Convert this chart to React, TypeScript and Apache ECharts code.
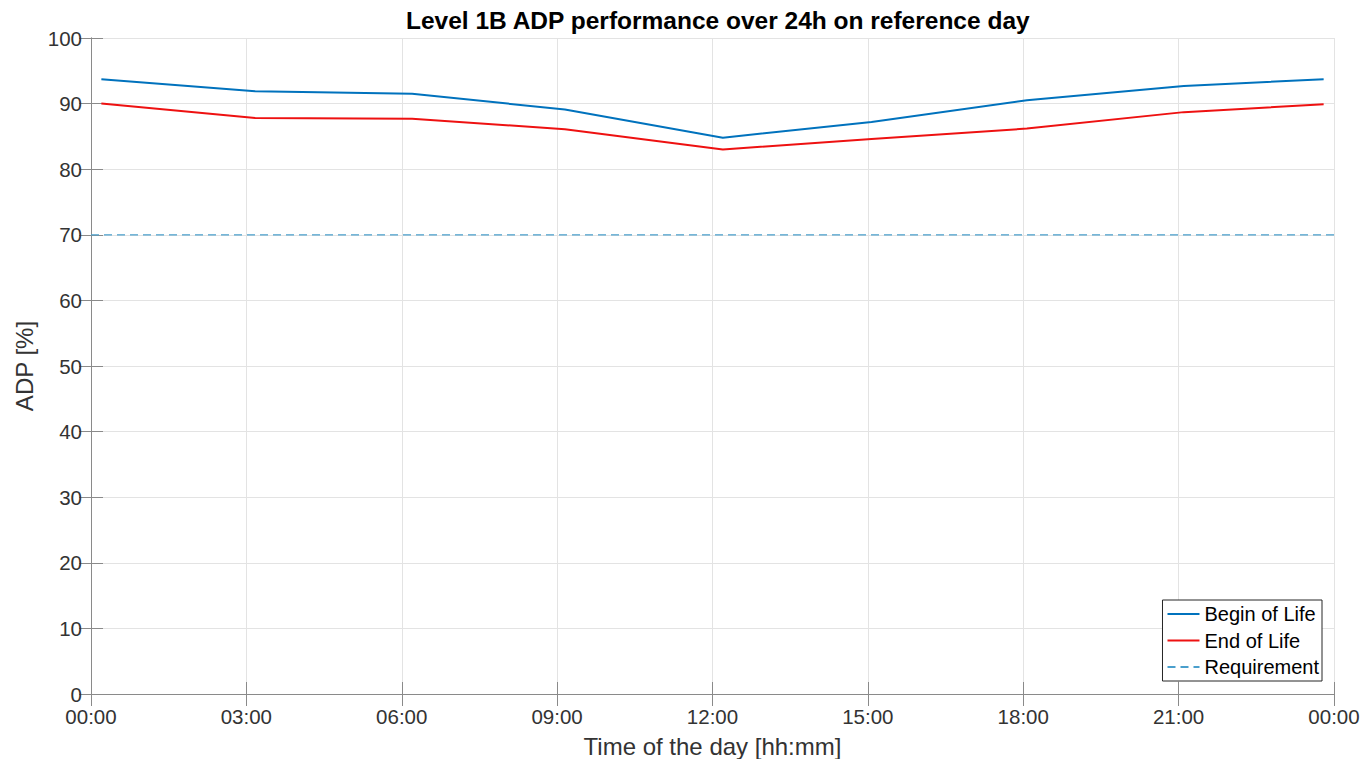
import React, { useEffect, useRef } from "react";
import * as echarts from "echarts";

const timesH = [0.2, 3.17, 6.2, 9.15, 12.2, 15.07, 18.07, 21.1, 23.8];
const beginOfLife = [93.7, 91.9, 91.5, 89.1, 84.8, 87.2, 90.5, 92.7, 93.7];
const endOfLife = [90.0, 87.8, 87.7, 86.1, 83.0, 84.6, 86.2, 88.7, 89.9];
const requirementTimes = [0, 24];
const requirementValue = [70, 70];

const FONT = "Liberation Sans, Arial, sans-serif";

const fmtTime = (v: number) => {
  const h = Math.round(v) % 24;
  return (h < 10 ? "0" : "") + h + ":00";
};

export default function App() {
  const ref = useRef<HTMLDivElement>(null);
  useEffect(() => {
    if (!ref.current) return;
    const chart = echarts.init(ref.current, undefined, { renderer: "svg" });
    const axisLine = { show: true, lineStyle: { color: "#8a8a8a", width: 1 } };
    const tick = { show: true, inside: true, length: 12, lineStyle: { color: "#8a8a8a" } };
    const grid = { show: true, lineStyle: { color: "#e3e3e3", width: 1 } };
    chart.setOption({
      animation: false,
      backgroundColor: "#ffffff",
      title: {
        text: "Level 1B ADP performance over 24h on reference day",
        left: 401,
        top: 3,
        textStyle: { fontFamily: FONT, fontSize: 24.5, fontWeight: "bold", color: "#000" },
      },
      grid: { left: 91, right: 30, top: 38, bottom: 65, containLabel: false, outerBoundsMode: "none" },
      legend: {
        orient: "vertical",
        right: 42,
        bottom: 78,
        backgroundColor: "#fff",
        borderColor: "#262626",
        borderWidth: 1,
        borderRadius: 0,
        padding: [4, 3, 4, 4],
        itemGap: 6.5,
        itemWidth: 32,
        itemHeight: 20,
        itemStyle: { opacity: 0 },
        textStyle: { fontFamily: FONT, fontSize: 20, color: "#000" },
        data: ["Begin of Life", "End of Life", "Requirement"],
      },
      xAxis: [
        {
          type: "value",
          min: 0,
          max: 24,
          interval: 3,
          name: "Time of the day [hh:mm]",
          nameLocation: "middle",
          nameGap: 40,
          nameTextStyle: { fontFamily: FONT, fontSize: 24, color: "#333" },
          axisLine,
          axisTick: tick,
          splitLine: grid,
          axisLabel: { formatter: fmtTime, fontFamily: FONT, fontSize: 20.5, color: "#333", margin: 12 },
        },
        {
          type: "value",
          position: "top",
          min: 0,
          max: 24,
          interval: 3,
          axisLine,
          axisTick: tick,
          splitLine: { show: false },
          axisLabel: { show: false },
        },
      ],
      yAxis: [
        {
          type: "value",
          min: 0,
          max: 100,
          interval: 10,
          name: "ADP [%]",
          nameLocation: "middle",
          nameGap: 50,
          nameTextStyle: { fontFamily: FONT, fontSize: 24, color: "#333" },
          axisLine,
          axisTick: tick,
          splitLine: grid,
          axisLabel: { fontFamily: FONT, fontSize: 20.5, color: "#333", margin: 9 },
        },
        {
          type: "value",
          position: "right",
          min: 0,
          max: 100,
          interval: 10,
          axisLine,
          axisTick: tick,
          splitLine: { show: false },
          axisLabel: { show: false },
        },
      ],
      series: [
        {
          name: "Begin of Life",
          type: "line",
          symbol: "none",
          data: timesH.map((t, i) => [t, beginOfLife[i]]),
          lineStyle: { color: "#0072BD", width: 2 },
          itemStyle: { color: "#0072BD" },
        },
        {
          name: "End of Life",
          type: "line",
          symbol: "none",
          data: timesH.map((t, i) => [t, endOfLife[i]]),
          lineStyle: { color: "#ee1111", width: 2 },
          itemStyle: { color: "#ee1111" },
        },
        {
          name: "Requirement",
          type: "line",
          symbol: "none",
          z: 5,
          data: requirementTimes.map((t, i) => [t, requirementValue[i]]),
          lineStyle: { color: "#4a9fcc", width: 1.3, type: [8, 5], opacity: 1 },
          itemStyle: { color: "#4a9fcc" },
        },
      ],
    });
    return () => chart.dispose();
  }, []);
  return <div ref={ref} style={{ width: 1364, height: 759, position: "absolute", left: 0, top: 0 }} />;
}
